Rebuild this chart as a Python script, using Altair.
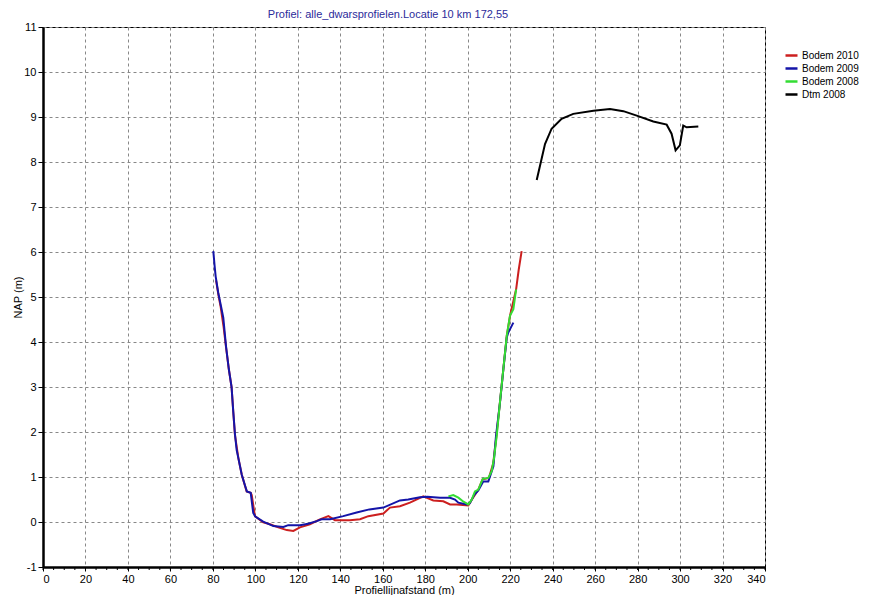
import altair as alt
import pandas as pd

title_text = "Profiel: alle_dwarsprofielen.Locatie 10 km 172,55"
series_names = ["Bodem 2010", "Bodem 2009", "Bodem 2008", "Dtm 2008"]
series_colors = ["#cc1f1f", "#1414a8", "#33dd33", "#000000"]

red_x = [81.5, 82.6, 83.7, 85.0, 86.2, 87.5, 88.8, 89.6, 90.4, 92.0, 93.6, 95.9, 97.8, 98.3, 99.8, 103.7, 106.9, 110.8, 114.8, 117.9, 121.0, 125.7, 130.4, 134.4, 137.5, 144.6, 149.3, 153.2, 160.3, 163.4, 168.1, 172.8, 179.1, 183.8, 188.5, 191.7, 194.8, 200.3, 202.0, 205.0, 207.0, 210.0, 212.0, 213.5, 215.2, 216.8, 218.4, 220.0, 222.8, 224.0, 225.4]
red_y = [5.37, 5.05, 4.77, 4.35, 3.88, 3.4, 3.0, 2.45, 1.93, 1.42, 1.05, 0.68, 0.65, 0.6, 0.13, -0.01, -0.05, -0.12, -0.18, -0.2, -0.12, -0.05, 0.06, 0.13, 0.04, 0.04, 0.06, 0.13, 0.19, 0.32, 0.35, 0.43, 0.57, 0.48, 0.46, 0.39, 0.39, 0.37, 0.5, 0.72, 0.95, 0.98, 1.3, 1.9, 2.67, 3.41, 4.14, 4.6, 5.17, 5.6, 6.02]

blue_x = [80.2, 80.8, 81.3, 82.5, 83.8, 84.9, 86.2, 87.5, 88.8, 89.6, 90.4, 91.2, 92.0, 93.6, 95.2, 96.0, 97.8, 99.0, 100.0, 103.7, 108.5, 113.2, 115.5, 121.0, 124.9, 128.9, 131.2, 135.2, 141.4, 147.7, 153.7, 160.3, 168.1, 172.0, 177.5, 181.0, 187.0, 191.7, 194.0, 195.6, 199.5, 201.0, 203.0, 205.0, 207.3, 209.7, 212.1, 213.3, 215.2, 216.8, 218.4, 219.1, 221.5]
blue_y = [6.02, 5.7, 5.46, 5.1, 4.8, 4.54, 3.9, 3.4, 3.0, 2.45, 1.95, 1.6, 1.42, 1.05, 0.8, 0.68, 0.65, 0.2, 0.12, 0.01, -0.09, -0.11, -0.07, -0.07, -0.04, 0.02, 0.06, 0.06, 0.13, 0.21, 0.28, 0.32, 0.48, 0.5, 0.55, 0.56, 0.54, 0.54, 0.5, 0.43, 0.39, 0.42, 0.6, 0.7, 0.9, 0.9, 1.24, 1.9, 2.65, 3.4, 4.1, 4.21, 4.43]

green_x = [190.9, 193.2, 195.6, 198.0, 200.3, 201.9, 203.4, 205.0, 207.1, 209.7, 211.3, 212.4, 213.7, 215.2, 216.8, 218.4, 219.9, 221.5, 222.8]
green_y = [0.57, 0.6, 0.54, 0.45, 0.39, 0.5, 0.68, 0.72, 0.96, 0.98, 1.13, 1.42, 1.93, 2.67, 3.41, 4.14, 4.58, 4.73, 5.17]

black_x = [232.5, 236.4, 239.5, 244.2, 249.7, 259.2, 267.0, 273.3, 279.6, 287.4, 293.7, 296.0, 297.9, 299.9, 301.5, 303.1, 308.6]
black_y = [7.6, 8.4, 8.74, 8.96, 9.07, 9.14, 9.18, 9.13, 9.03, 8.9, 8.83, 8.63, 8.26, 8.37, 8.81, 8.77, 8.79]

x_ticks = list(range(0, 341, 20))
y_ticks = list(range(-1, 12))
x_minor = list(range(0, 341, 5))

rows = []
for name, xs, ys in zip(series_names, [red_x, blue_x, green_x, black_x], [red_y, blue_y, green_y, black_y]):
    for i, (a, b) in enumerate(zip(xs, ys)):
        rows.append({"series": name, "x": a, "y": b, "i": i})
df = pd.DataFrame(rows)

W, H = 722, 540

xscale = alt.Scale(domain=[0, 340], nice=False, zero=False)
yscale = alt.Scale(domain=[-1, 11], nice=False, zero=False)

lines = alt.Chart(df).mark_line(strokeWidth=2).encode(
    x=alt.X("x:Q", scale=xscale,
            axis=alt.Axis(values=x_ticks, title="Profiellijnafstand (m)",
                          titleY=26, titleBaseline="alphabetic", tickSize=4, labelPadding=2)),
    y=alt.Y("y:Q", scale=yscale,
            axis=alt.Axis(values=y_ticks, title="NAP (m)", titleX=-25, titleY=H / 2,
                          titleBaseline="middle", titleAlign="center",
                          labelExpr="replace(datum.label, '\u2212', '-')")),
    color=alt.Color("series:N",
                    scale=alt.Scale(domain=series_names, range=series_colors),
                    legend=alt.Legend(title=None, orient="none", legendX=741, legendY=21,
                                      symbolType="stroke", symbolStrokeWidth=2.5, symbolSize=144,
                                      labelFont="Liberation Sans", labelFontSize=10,
                                      labelOffset=3, rowPadding=0, labelLimit=200)),
    order="i:Q",
)

minor = alt.Chart(pd.DataFrame({"m": x_minor})).mark_rule(color="black", strokeWidth=1).encode(
    x=alt.X("m:Q", scale=xscale),
    y=alt.value(H), y2=alt.value(H + 3),
)

chart = alt.layer(minor, lines).properties(
    width=W, height=H,
    title=alt.TitleParams(title_text, fontSize=11, font="Liberation Sans", fontWeight="normal",
                          color="#2b2b9a", dx=-16, offset=1),
    autosize=alt.AutoSizeParams(type="none"),
    padding={"left": 35, "top": 19, "right": 97, "bottom": 28},
).configure_view(stroke="black", strokeWidth=1).configure_axis(
    labelFont="Liberation Sans", labelFontSize=11, labelColor="black",
    titleFont="Liberation Sans", titleFontSize=11, titleFontWeight="normal", titleColor="black",
    domainColor="black", domainWidth=2.5, tickColor="black", tickSize=5,
    gridColor="#888888", gridDash=[3, 3], gridWidth=1, gridOpacity=1,
)

chart.save("out.html", embed_options={"renderer": "svg", "actions": False})
